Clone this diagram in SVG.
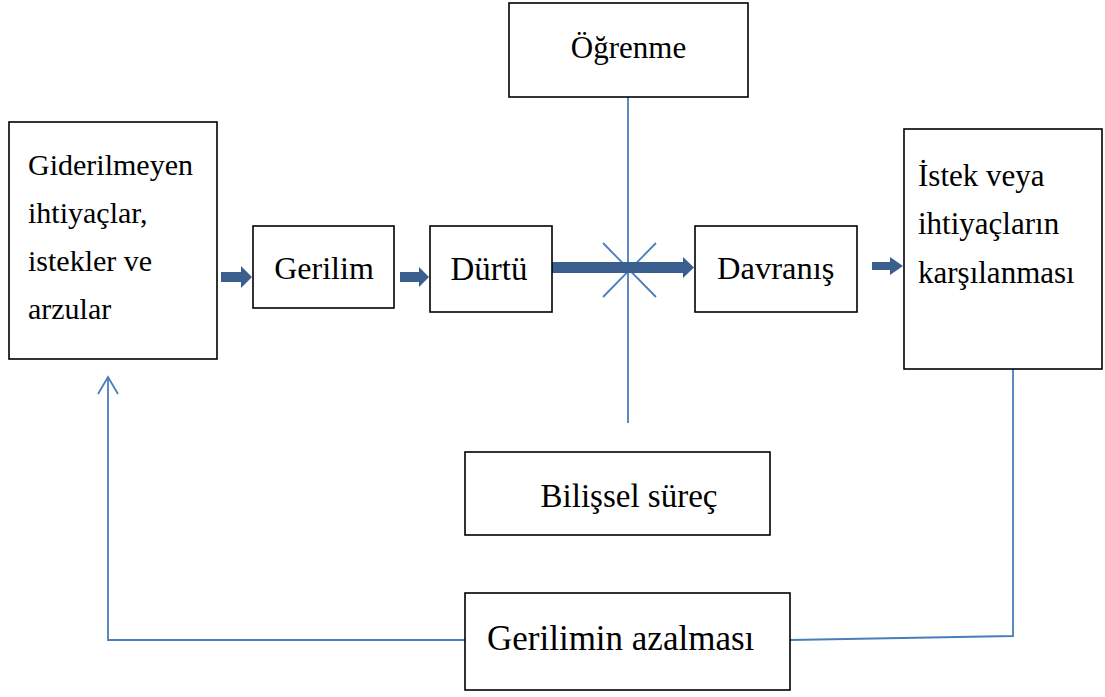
<svg xmlns="http://www.w3.org/2000/svg" width="1105" height="697" viewBox="0 0 1105 697">
<style>
.box{fill:#fff;stroke:#000;stroke-width:1.6}
.t{font-family:"Liberation Serif","Times New Roman",serif;font-size:30px;fill:#000}
.ln{fill:none;stroke:#4a7ebb;stroke-width:1.8}
.ar{fill:#3a5f8f}
</style>
<rect width="1105" height="697" fill="#fff"/>
<g id="connectors">
<line class="ln" x1="628" y1="97" x2="628" y2="423"/>
<line class="ln" x1="603" y1="243" x2="656" y2="297"/>
<line class="ln" x1="656" y1="243" x2="603" y2="297"/>
<polygon class="ar" points="550,262 683,262 683,257 694,267.5 683,278 683,273 550,273"/>
<polygon class="ar" points="221,272 241,272 241,266 252,277 241,288 241,282 221,282"/>
<polygon class="ar" points="400,272 419,272 419,267 429,277 419,287 419,282 400,282"/>
<polygon class="ar" points="872,262 890,262 890,257 903,266 890,275 890,270 872,270"/>
<polyline class="ln" points="1013,369 1013,636 790,640"/>
<polyline class="ln" points="465,640 108,640 108,377"/>
<polyline class="ln" points="98,394 108,377 118,394"/>
</g>
<g id="ogrenme"><rect class="box" x="509" y="3" width="239" height="94"/><text class="t" x="628.5" y="58" text-anchor="middle" style="font-size:31px">Öğrenme</text></g>
<g id="giderilmeyen"><rect class="box" x="9" y="122" width="208" height="237"/>
<text class="t" x="28" y="175">Giderilmeyen</text>
<text class="t" x="28" y="223">ihtiyaçlar,</text>
<text class="t" x="28" y="271">istekler ve</text>
<text class="t" x="28" y="319">arzular</text></g>
<g id="gerilim"><rect class="box" x="253" y="226" width="141" height="82"/><text class="t" x="324" y="279" text-anchor="middle" style="font-size:32px">Gerilim</text></g>
<g id="durtu"><rect class="box" x="430" y="226" width="122" height="86"/><text class="t" x="489" y="280" text-anchor="middle" style="font-size:33px">Dürtü</text></g>
<g id="davranis"><rect class="box" x="695" y="226" width="162" height="86"/><text class="t" x="717" y="279" style="font-size:32.5px">Davranış</text></g>
<g id="istek"><rect class="box" x="904" y="129" width="198" height="240"/>
<text class="t" x="918" y="186" style="font-size:31px">İstek veya</text>
<text class="t" x="918" y="234" style="font-size:31px">ihtiyaçların</text>
<text class="t" x="918" y="283" style="font-size:31px">karşılanması</text></g>
<g id="bilissel"><rect class="box" x="465" y="452" width="305" height="83"/><text class="t" x="629" y="507" text-anchor="middle" style="font-size:33px">Bilişsel süreç</text></g>
<g id="azalmasi"><rect class="box" x="465" y="593" width="325" height="97"/><text class="t" x="487" y="650" style="font-size:35px">Gerilimin azalması</text></g>
</svg>
